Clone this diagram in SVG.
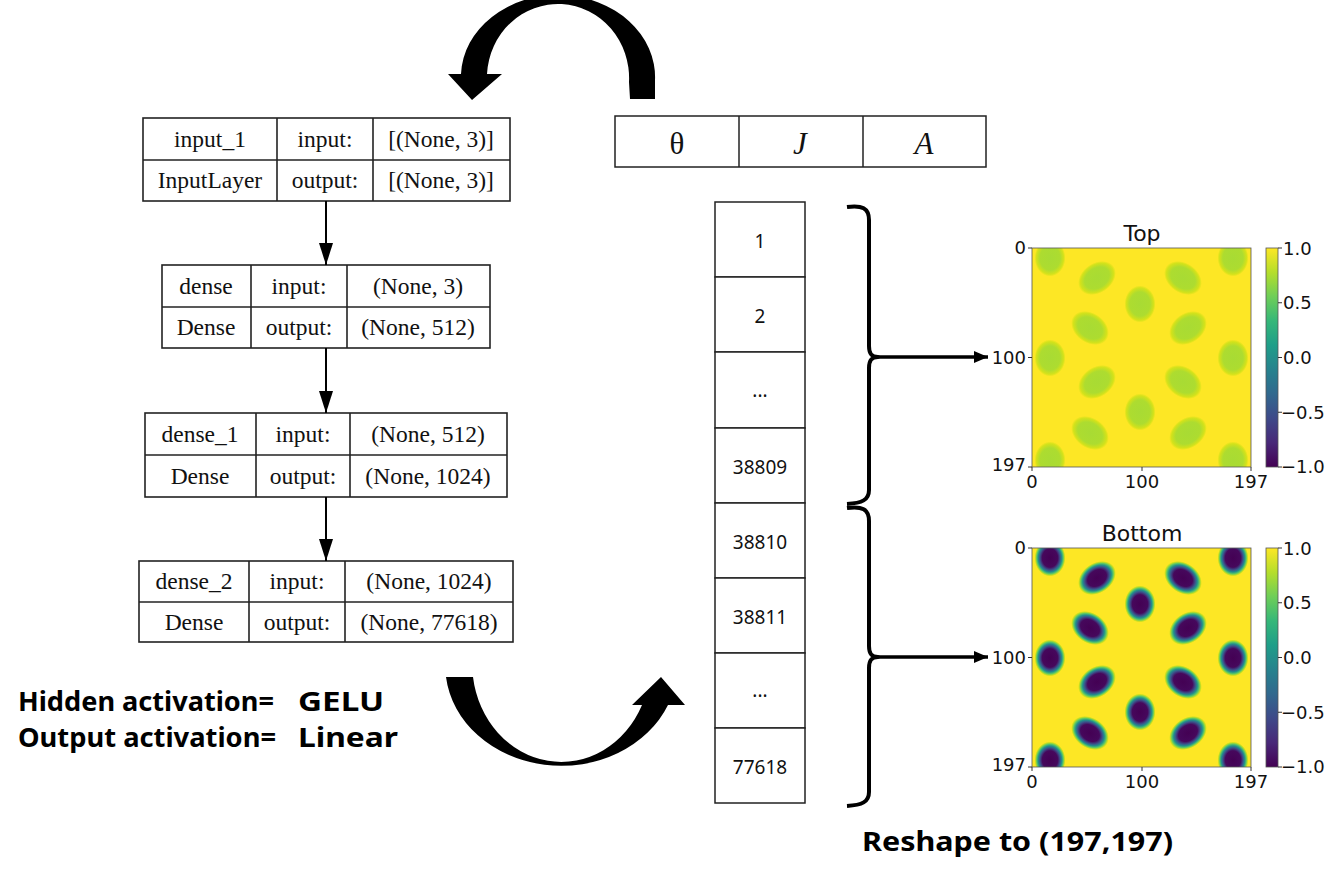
<svg xmlns="http://www.w3.org/2000/svg" xmlns:xlink="http://www.w3.org/1999/xlink" width="1328" height="880" viewBox="0 0 1328 880">
<style>
.bx{fill:#fff;stroke:#222;stroke-width:1.6}
.dv{stroke:#222;stroke-width:1.6}
.st{font-family:"Liberation Serif",serif;font-size:23.5px;fill:#111;text-anchor:middle}
.cell{fill:#fff;stroke:#222;stroke-width:1.5}
.num{font-family:"Noto Sans",sans-serif;font-size:19px;fill:#111;text-anchor:middle}
.big{font-family:"Noto Sans",sans-serif;font-size:27px;font-weight:bold;fill:#000}
.tk{font-family:"DejaVu Sans",sans-serif;font-size:18px;fill:#111}
.ttl{font-family:"DejaVu Sans",sans-serif;font-size:22px;fill:#111;text-anchor:middle}
.sym{font-family:"Liberation Serif",serif;font-size:31px;fill:#111;text-anchor:middle}
.tl{stroke:#333;stroke-width:1}
.con{stroke:#000;stroke-width:2;fill:none}
.brace{stroke:#000;stroke-width:4;fill:none;stroke-linejoin:round}
.harr{stroke:#000;stroke-width:3.5;fill:none}
</style>
<defs>
<marker id="ah" markerUnits="userSpaceOnUse" markerWidth="22" markerHeight="14" refX="22" refY="7" orient="auto" viewBox="0 0 22 14"><path d="M0,0 L22,7 L0,14 z" fill="#000"/></marker>
<marker id="ah2" markerUnits="userSpaceOnUse" markerWidth="14" markerHeight="12" refX="14" refY="6" orient="auto" viewBox="0 0 14 12"><path d="M0,0 L14,6 L0,12 z" fill="#000"/></marker>
<radialGradient id="gDark">
<stop offset="0" stop-color="#440154"/>
<stop offset="0.5" stop-color="#46085c"/>
<stop offset="0.65" stop-color="#3b528b"/>
<stop offset="0.76" stop-color="#21918c"/>
<stop offset="0.86" stop-color="#5ec962"/>
<stop offset="0.94" stop-color="#c8e020"/>
<stop offset="1" stop-color="#fde725"/>
</radialGradient>
<radialGradient id="gLight">
<stop offset="0" stop-color="#a8db34"/>
<stop offset="0.65" stop-color="#addc30"/>
<stop offset="0.88" stop-color="#d4e21a"/>
<stop offset="1" stop-color="#fde725"/>
</radialGradient>
<linearGradient id="viridis" x1="0" y1="1" x2="0" y2="0">
<stop offset="0" stop-color="#440154"/>
<stop offset="0.111" stop-color="#482878"/>
<stop offset="0.222" stop-color="#3e4989"/>
<stop offset="0.333" stop-color="#31688e"/>
<stop offset="0.444" stop-color="#26828e"/>
<stop offset="0.556" stop-color="#1f9e89"/>
<stop offset="0.667" stop-color="#35b779"/>
<stop offset="0.778" stop-color="#6ece58"/>
<stop offset="0.889" stop-color="#b5de2b"/>
<stop offset="1" stop-color="#fde725"/>
</linearGradient>
<clipPath id="imgClip"><rect x="0" y="0" width="219" height="219"/></clipPath>
<ellipse id="bv" cx="0" cy="0" rx="15.5" ry="18.5"/>
<ellipse id="bt" cx="0" cy="0" rx="20.5" ry="15"/>
<g id="blobs">
<use href="#bv" transform="translate(18,10)"/>
<use href="#bv" transform="translate(201,10)"/>
<use href="#bt" transform="translate(65,30) rotate(-35)"/>
<use href="#bt" transform="translate(151,30) rotate(35)"/>
<use href="#bv" transform="translate(108,56)"/>
<use href="#bt" transform="translate(58,80) rotate(35)"/>
<use href="#bt" transform="translate(156,80) rotate(-35)"/>
<use href="#bv" transform="translate(18,110)"/>
<use href="#bv" transform="translate(201,110)"/>
<use href="#bt" transform="translate(65,134) rotate(-35)"/>
<use href="#bt" transform="translate(151,134) rotate(35)"/>
<use href="#bv" transform="translate(108,164)"/>
<use href="#bt" transform="translate(58,185) rotate(35)"/>
<use href="#bt" transform="translate(156,185) rotate(-35)"/>
<use href="#bv" transform="translate(18,212)"/>
<use href="#bv" transform="translate(201,212)"/>
</g>
</defs>
<rect width="1328" height="880" fill="#fff"/>

<!-- Model layer boxes -->
<g id="node-input_1">
<rect class="bx" x="143" y="118" width="367" height="83"/>
<line class="dv" x1="143" y1="160" x2="510" y2="160"/>
<line class="dv" x1="277" y1="118" x2="277" y2="201"/>
<line class="dv" x1="373" y1="118" x2="373" y2="201"/>
<text class="st" x="210" y="147">input_1</text>
<text class="st" x="325" y="147">input:</text>
<text class="st" x="441" y="147">[(None, 3)]</text>
<text class="st" x="210" y="188">InputLayer</text>
<text class="st" x="325" y="188">output:</text>
<text class="st" x="441" y="188">[(None, 3)]</text>
</g>
<g id="node-dense">
<rect class="bx" x="162" y="265" width="328" height="83"/>
<line class="dv" x1="162" y1="307" x2="490" y2="307"/>
<line class="dv" x1="251" y1="265" x2="251" y2="348"/>
<line class="dv" x1="347" y1="265" x2="347" y2="348"/>
<text class="st" x="206" y="294">dense</text>
<text class="st" x="299" y="294">input:</text>
<text class="st" x="418" y="294">(None, 3)</text>
<text class="st" x="206" y="335">Dense</text>
<text class="st" x="299" y="335">output:</text>
<text class="st" x="418" y="335">(None, 512)</text>
</g>
<g id="node-dense_1">
<rect class="bx" x="145" y="413" width="362" height="84"/>
<line class="dv" x1="145" y1="455" x2="507" y2="455"/>
<line class="dv" x1="256" y1="413" x2="256" y2="497"/>
<line class="dv" x1="350" y1="413" x2="350" y2="497"/>
<text class="st" x="200" y="442">dense_1</text>
<text class="st" x="303" y="442">input:</text>
<text class="st" x="428" y="442">(None, 512)</text>
<text class="st" x="200" y="484">Dense</text>
<text class="st" x="303" y="484">output:</text>
<text class="st" x="428" y="484">(None, 1024)</text>
</g>
<g id="node-dense_2">
<rect class="bx" x="139" y="561" width="374" height="81"/>
<line class="dv" x1="139" y1="602" x2="513" y2="602"/>
<line class="dv" x1="249" y1="561" x2="249" y2="642"/>
<line class="dv" x1="345" y1="561" x2="345" y2="642"/>
<text class="st" x="194" y="589">dense_2</text>
<text class="st" x="297" y="589">input:</text>
<text class="st" x="429" y="589">(None, 1024)</text>
<text class="st" x="194" y="630">Dense</text>
<text class="st" x="297" y="630">output:</text>
<text class="st" x="429" y="630">(None, 77618)</text>
</g>

<!-- Activation text -->
<g id="node-activation">
<text class="big" y="711"><tspan x="18" textLength="256" lengthAdjust="spacingAndGlyphs">Hidden activation=</tspan> <tspan x="298" textLength="86" lengthAdjust="spacingAndGlyphs">GELU</tspan></text>
<text class="big" y="747"><tspan x="18" textLength="258" lengthAdjust="spacingAndGlyphs">Output activation=</tspan> <tspan x="298" textLength="100" lengthAdjust="spacingAndGlyphs">Linear</tspan></text>
</g>

<!-- Parameter input vector -->
<g id="node-params">
<rect class="cell" x="615" y="116" width="371" height="51"/>
<line class="cell" x1="739" y1="116" x2="739" y2="167"/>
<line class="cell" x1="863" y1="116" x2="863" y2="167"/>
<text class="sym" x="677" y="154">θ</text>
<text class="sym" x="800" y="154" font-style="italic">J</text>
<text class="sym" x="924" y="154" font-style="italic">A</text>
</g>

<!-- Output vector -->
<g id="node-output-vector">
<rect class="cell" x="715" y="202" width="90" height="75"/>
<rect class="cell" x="715" y="277" width="90" height="75"/>
<rect class="cell" x="715" y="352" width="90" height="76"/>
<rect class="cell" x="715" y="428" width="90" height="75"/>
<rect class="cell" x="715" y="503" width="90" height="75"/>
<rect class="cell" x="715" y="578" width="90" height="75"/>
<rect class="cell" x="715" y="653" width="90" height="75"/>
<rect class="cell" x="715" y="728" width="90" height="75"/>
<text class="num" x="760" y="248">1</text>
<text class="num" x="760" y="323">2</text>
<text class="num" x="760" y="397">...</text>
<text class="num" x="760" y="474">38809</text>
<text class="num" x="760" y="549">38810</text>
<text class="num" x="760" y="624">38811</text>
<text class="num" x="760" y="697">...</text>
<text class="num" x="760" y="774">77618</text>
</g>

<!-- Top heatmap -->
<g id="node-top-plot">
<text class="ttl" x="1142" y="241">Top</text>
<g transform="translate(1032,248)">
<g clip-path="url(#imgClip)">
<rect x="0" y="0" width="219" height="219" fill="#fde725"/>
<use href="#blobs" fill="url(#gLight)"/>
</g>
<rect x="0" y="0" width="219" height="219" fill="none" stroke="#555" stroke-width="0.8"/>
</g>
<line class="tl" x1="1028" y1="248" x2="1032" y2="248"/>
<line class="tl" x1="1028" y1="357.5" x2="1032" y2="357.5"/>
<line class="tl" x1="1028" y1="467" x2="1032" y2="467"/>
<line class="tl" x1="1032" y1="467" x2="1032" y2="471"/>
<line class="tl" x1="1142" y1="467" x2="1142" y2="471"/>
<line class="tl" x1="1251" y1="467" x2="1251" y2="471"/>
<text class="tk" x="1026" y="254" text-anchor="end">0</text>
<text class="tk" x="1026" y="364" text-anchor="end">100</text>
<text class="tk" x="1026" y="471" text-anchor="end">197</text>
<text class="tk" x="1032" y="488" text-anchor="middle">0</text>
<text class="tk" x="1142" y="488" text-anchor="middle">100</text>
<text class="tk" x="1251" y="488" text-anchor="middle">197</text>
<rect x="1266" y="248" width="12" height="219" fill="url(#viridis)" stroke="#555" stroke-width="0.8"/>
<line class="tl" x1="1278" y1="248" x2="1282" y2="248"/>
<line class="tl" x1="1278" y1="302.75" x2="1282" y2="302.75"/>
<line class="tl" x1="1278" y1="357.5" x2="1282" y2="357.5"/>
<line class="tl" x1="1278" y1="412.25" x2="1282" y2="412.25"/>
<line class="tl" x1="1278" y1="467" x2="1282" y2="467"/>
<text class="tk" x="1283" y="255">1.0</text>
<text class="tk" x="1283" y="309">0.5</text>
<text class="tk" x="1283" y="364">0.0</text>
<text class="tk" x="1281" y="419">−0.5</text>
<text class="tk" x="1281" y="473">−1.0</text>
</g>

<!-- Bottom heatmap -->
<g id="node-bottom-plot">
<text class="ttl" x="1142" y="541">Bottom</text>
<g transform="translate(1032,548)">
<g clip-path="url(#imgClip)">
<rect x="0" y="0" width="219" height="219" fill="#fde725"/>
<use href="#blobs" fill="url(#gDark)"/>
</g>
<rect x="0" y="0" width="219" height="219" fill="none" stroke="#555" stroke-width="0.8"/>
</g>
<line class="tl" x1="1028" y1="548" x2="1032" y2="548"/>
<line class="tl" x1="1028" y1="657.5" x2="1032" y2="657.5"/>
<line class="tl" x1="1028" y1="767" x2="1032" y2="767"/>
<line class="tl" x1="1032" y1="767" x2="1032" y2="771"/>
<line class="tl" x1="1142" y1="767" x2="1142" y2="771"/>
<line class="tl" x1="1251" y1="767" x2="1251" y2="771"/>
<text class="tk" x="1026" y="554" text-anchor="end">0</text>
<text class="tk" x="1026" y="664" text-anchor="end">100</text>
<text class="tk" x="1026" y="771" text-anchor="end">197</text>
<text class="tk" x="1032" y="788" text-anchor="middle">0</text>
<text class="tk" x="1142" y="788" text-anchor="middle">100</text>
<text class="tk" x="1251" y="788" text-anchor="middle">197</text>
<rect x="1266" y="548" width="12" height="219" fill="url(#viridis)" stroke="#555" stroke-width="0.8"/>
<line class="tl" x1="1278" y1="548" x2="1282" y2="548"/>
<line class="tl" x1="1278" y1="602.75" x2="1282" y2="602.75"/>
<line class="tl" x1="1278" y1="657.5" x2="1282" y2="657.5"/>
<line class="tl" x1="1278" y1="712.25" x2="1282" y2="712.25"/>
<line class="tl" x1="1278" y1="767" x2="1282" y2="767"/>
<text class="tk" x="1283" y="555">1.0</text>
<text class="tk" x="1283" y="609">0.5</text>
<text class="tk" x="1283" y="664">0.0</text>
<text class="tk" x="1281" y="719">−0.5</text>
<text class="tk" x="1281" y="773">−1.0</text>
</g>

<g id="node-reshape">
<text class="big" x="862" y="851" textLength="311" lengthAdjust="spacingAndGlyphs">Reshape to (197,197)</text>
</g>

<!-- Connectors -->
<g id="connectors">
<line class="con" x1="326" y1="201" x2="326" y2="265" marker-end="url(#ah)"/>
<line class="con" x1="326" y1="348" x2="326" y2="413" marker-end="url(#ah)"/>
<line class="con" x1="326" y1="497" x2="326" y2="561" marker-end="url(#ah)"/>
<path class="brace" d="M847 207 C862 205 869 208 869 220 L869 346 C869 353 871 357 878 357 C871 357 869 361 869 368 L869 490 C869 500 862 503 847 504"/>
<path class="brace" d="M847 508 C862 506 869 509 869 521 L869 646 C869 653 871 657 878 657 C871 657 869 661 869 668 L869 792 C869 802 862 805 847 806"/>
<line class="harr" x1="876" y1="357" x2="988" y2="357" marker-end="url(#ah2)"/>
<line class="harr" x1="876" y1="657" x2="988" y2="657" marker-end="url(#ah2)"/>
<path d="M655 99 L655 80 A97 82 0 0 0 461 74 L448 74 L472 100 L502 74 L487 74 A71 74 0 0 1 629 82 L630 99 Z" fill="#000"/>
<path d="M446 677 L473 677 A89 98 0 0 0 642 705 L632 705 L661 677 L685 705 L668 705 A116 100 0 0 1 446 677 Z" fill="#000"/>
</g>
</svg>
